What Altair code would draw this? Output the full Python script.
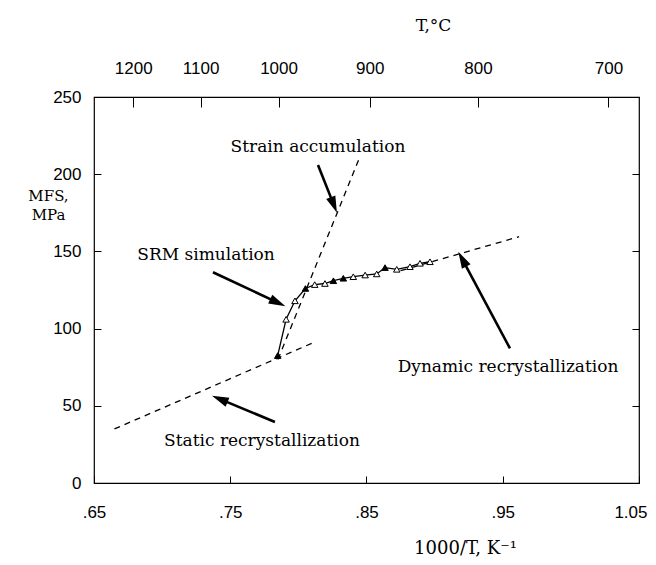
import math
import altair as alt
import pandas as pd

# ---------------- data ----------------
# SRM simulation points (1000/T, MFS)
pt_x = [0.7848, 0.7910, 0.7975, 0.8052, 0.8120, 0.8195, 0.8257, 0.8330,
        0.8403, 0.8490, 0.8575, 0.8636, 0.8722, 0.8819, 0.8893, 0.8966]
pt_y = [82.5, 106.0, 118.0, 126.0, 128.5, 129.2, 131.0, 132.6,
        133.6, 134.7, 135.4, 139.5, 138.4, 140.1, 142.3, 143.3]
pt_kind = ["filled", "open", "open", "filled", "open", "open", "filled", "filled",
           "open", "open", "open", "filled", "open", "open", "open", "open"]

# dashed regime lines (two end points each)
dash_name = ["static", "static", "strain", "strain", "dynamic", "dynamic"]
dash_x = [0.665, 0.8125, 0.785, 0.845, 0.875, 0.962]
dash_y = [35.0, 91.5, 80.0, 211.0, 137.5, 159.5]

# annotations
ann_text = ["Strain accumulation", "SRM simulation",
            "Dynamic recrystallization", "Static recrystallization"]
ann_x = [0.8144, 0.7322, 0.9539, 0.7733]
ann_y = [217.6, 147.7, 75.1, 27.2]

# arrows (tail -> tip)
arr_tail_x = [0.8144, 0.7373, 0.9553, 0.7828]
arr_tail_y = [206.0, 136.5, 87.2, 39.5]
arr_tip_x = [0.8283, 0.7905, 0.9174, 0.7366]
arr_tip_y = [175.0, 114.5, 149.8, 56.5]

# axes
x_ticks = [0.65, 0.75, 0.85, 0.95, 1.05]
y_ticks = [0, 50, 100, 150, 200, 250]
T_labels = [1200, 1100, 1000, 900, 800, 700]

# ---------------- layout ----------------
W, H = 545, 386
X_DOMAIN = [0.65, 1.05]
Y_DOMAIN = [0, 250]
KX = W / (X_DOMAIN[1] - X_DOMAIN[0])
KY = H / (Y_DOMAIN[1] - Y_DOMAIN[0])
TICK = 7
TICK_TOP = 10
SANS = "Liberation Sans"
SERIF = "DejaVu Serif"

xs = alt.Scale(domain=X_DOMAIN, nice=False, zero=False)
ys = alt.Scale(domain=Y_DOMAIN, nice=False, zero=False)

pts_df = pd.DataFrame({"x": pt_x, "y": pt_y, "kind": pt_kind, "i": range(len(pt_x))})
dash_df = pd.DataFrame({"x": dash_x, "y": dash_y, "name": dash_name})
ann_df = pd.DataFrame({"x": ann_x, "y": ann_y, "t": ann_text})

rows = []
HEAD_LEN = 12
for tx, ty, hx, hy in zip(arr_tail_x, arr_tail_y, arr_tip_x, arr_tip_y):
    dxp = (hx - tx) * KX
    dyp = (hy - ty) * KY  # upward positive
    L = math.hypot(dxp, dyp)
    ang = math.degrees(math.atan2(dxp, dyp)) % 360
    ex = hx - dxp / L * HEAD_LEN / KX
    ey = hy - dyp / L * HEAD_LEN / KY
    rows.append({"x": tx, "y": ty, "x2": ex, "y2": ey, "hx": hx, "hy": hy, "ang": ang})
arr_df = pd.DataFrame(rows)

common_axis = dict(domain=False, grid=False, tickColor="black", tickWidth=1,
                   labelColor="black", labelFont=SANS, labelFontSize=17,
                   labelOverlap=False, labelFlush=False, labelBound=False,
                   titleFont=SERIF, titleFontWeight="normal", titleColor="black",
                   titleAngle=0, titleAlign="center", titleBaseline="middle")

bottom_axis = alt.Axis(
    orient="bottom", values=x_ticks, offset=-TICK, tickSize=TICK, labelPadding=21,
    labelExpr="datum.value < 1 ? substring(format(datum.value, '.2f'), 1) : format(datum.value, '.2f')",
    labelAlign={"condition": {"test": "datum.value > 1", "value": "right"}, "value": "center"},
    labelOffset={"condition": {"test": "datum.value > 1", "value": 8}, "value": 0},
    title="1000/T, K⁻¹", titleX=371, titleY=72, titleFontSize=18, **common_axis)

top_axis = alt.Axis(
    orient="top", values=[1000.0 / (t + 273.15) for t in T_labels],
    offset=-TICK_TOP, tickSize=TICK_TOP, labelPadding=20,
    labelExpr="format(round(1000 / datum.value - 273.15), 'd')",
    title="T,°C", titleX=339, titleY=-82, titleFontSize=17, **common_axis)

left_axis = alt.Axis(
    orient="left", values=y_ticks, offset=-TICK, tickSize=TICK, labelPadding=13,
    title=["MFS,", "MPa"], titleX=-53, titleY=98, titleLineHeight=19,
    titleFontSize=15, **common_axis)

right_axis = alt.Axis(
    orient="right", values=y_ticks, offset=-TICK, tickSize=TICK, labels=False,
    title=None, domain=False, grid=False, tickColor="black")

line = alt.Chart(pts_df).mark_line(color="black", strokeWidth=1.3).encode(
    x=alt.X("x:Q", scale=xs, axis=bottom_axis),
    y=alt.Y("y:Q", scale=ys, axis=left_axis),
    order="i:Q")

dashes = alt.Chart(dash_df).mark_line(color="black", strokeWidth=1.3,
                                      strokeDash=[6, 5]).encode(
    x=alt.X("x:Q", scale=xs, axis=top_axis),
    y=alt.Y("y:Q", scale=ys, axis=right_axis),
    detail="name:N")

points = alt.Chart(pts_df).mark_point(shape="triangle-up", filled=True, size=42,
                                      stroke="black", strokeWidth=1,
                                      opacity=1).encode(
    x=alt.X("x:Q", scale=xs, axis=None),
    y=alt.Y("y:Q", scale=ys, axis=None),
    fill=alt.Fill("kind:N", scale=alt.Scale(domain=["filled", "open"],
                                            range=["black", "white"]),
                  legend=None))

shafts = alt.Chart(arr_df).mark_rule(color="black", strokeWidth=2.6).encode(
    x=alt.X("x:Q", scale=xs, axis=None),
    y=alt.Y("y:Q", scale=ys, axis=None),
    x2="x2:Q", y2="y2:Q")

heads = alt.Chart(arr_df).mark_point(shape="M0,0L0.7,2.4L-0.7,2.4Z", filled=True,
                                     color="black", size=196, opacity=1).encode(
    x=alt.X("hx:Q", scale=xs, axis=None),
    y=alt.Y("hy:Q", scale=ys, axis=None),
    angle=alt.Angle("ang:Q", scale=None))

texts = alt.Chart(ann_df).mark_text(font=SERIF, fontSize=17, color="black",
                                    align="center", baseline="middle").encode(
    x=alt.X("x:Q", scale=xs, axis=None),
    y=alt.Y("y:Q", scale=ys, axis=None),
    text="t:N")

chart = alt.layer(line, dashes, points, shafts, heads, texts).resolve_axis(
    x="independent", y="independent"
).properties(
    width=W, height=H,
    autosize=alt.AutoSizeParams(type="none"),
    padding={"left": 86, "top": 89, "right": 9, "bottom": 74},
    background="white",
).configure_view(stroke="black", strokeWidth=1.2)

chart.save("out.html", embed_options={"renderer": "svg", "actions": False})
